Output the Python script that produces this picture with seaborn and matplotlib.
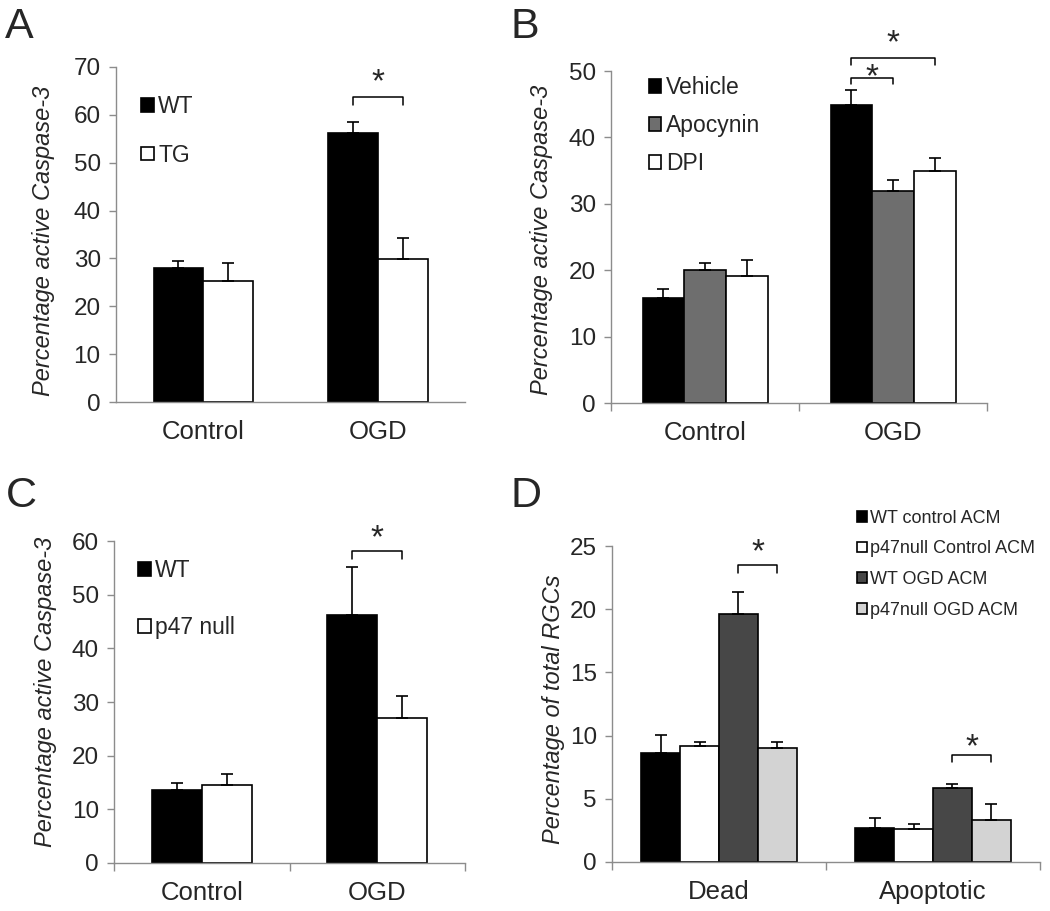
import numpy as np
import pandas as pd
import seaborn as sns
import matplotlib.pyplot as plt

# --- values (mean, upper error) ---
CONDITIONS = ["Control", "OGD"]

A_GROUPS = ["WT", "TG"]
A_WT = [28.0, 56.1]
A_WT_ERR = [1.5, 2.4]
A_TG = [25.3, 29.8]
A_TG_ERR = [3.7, 4.4]

B_GROUPS = ["Vehicle", "Apocynin", "DPI"]
B_VEHICLE = [15.8, 44.9]
B_VEHICLE_ERR = [1.4, 2.2]
B_APOCYNIN = [20.0, 32.0]
B_APOCYNIN_ERR = [1.1, 1.6]
B_DPI = [19.1, 34.9]
B_DPI_ERR = [2.5, 2.0]

C_GROUPS = ["WT", "p47 null"]
C_WT = [13.6, 46.3]
C_WT_ERR = [1.3, 8.8]
C_P47 = [14.6, 27.0]
C_P47_ERR = [2.0, 4.2]

D_CATS = ["Dead", "Apoptotic"]
D_GROUPS = ["WT control ACM", "p47null Control ACM", "WT OGD ACM", "p47null OGD ACM"]
D_WT_CTRL = [8.65, 2.69]
D_WT_CTRL_ERR = [1.42, 0.79]
D_P47_CTRL = [9.15, 2.58]
D_P47_CTRL_ERR = [0.32, 0.40]
D_WT_OGD = [19.6, 5.83]
D_WT_OGD_ERR = [1.8, 0.31]
D_P47_OGD = [8.99, 3.35]
D_P47_OGD_ERR = [0.51, 1.25]

GREY = "#8c8c8c"
STAR_SIZE = 24

sns.set_style("ticks")
plt.rcParams["font.family"] = ["Liberation Sans", "DejaVu Sans"]


def draw_panel(ax, cats, groups, means, errs, colors, width, ylim, yticks, ylabel, cat_ticks=True):
    df = pd.DataFrame({
        "cat": np.tile(cats, len(groups)),
        "group": np.repeat(groups, len(cats)),
        "value": np.concatenate(means),
    })
    sns.barplot(data=df, x="cat", y="value", hue="group", order=cats, hue_order=groups,
                palette=colors, width=width, gap=0, saturation=1, errorbar=None,
                edgecolor="black", linewidth=1.2, ax=ax)
    bar_sets = list(ax.containers)
    centers = []
    for bars, err in zip(bar_sets, errs):
        xs = [b.get_x() + b.get_width() / 2 for b in bars]
        hs = [b.get_height() for b in bars]
        centers.append(xs)
        ax.errorbar(xs, hs, yerr=[np.zeros(len(err)), err], fmt="none", ecolor="black",
                    elinewidth=1.2, capsize=4, capthick=1.2)

    ax.set_xlim(-0.5, len(cats) - 0.5)
    ax.set_ylim(*ylim)
    ax.set_yticks(yticks)
    ax.set_xlabel("")
    ax.set_ylabel(ylabel, fontsize=17, style="italic")
    sns.despine(ax=ax)
    for s in ["left", "bottom"]:
        ax.spines[s].set_color(GREY)
        ax.spines[s].set_linewidth(1.0)
    ax.tick_params(axis="y", direction="out", length=5, width=1, color=GREY, labelsize=17.5, pad=6)
    ax.tick_params(axis="x", which="major", length=0, labelsize=18.5, pad=13)
    if cat_ticks:
        ax.set_xticks(np.arange(len(cats) + 1) - 0.5, minor=True)
        ax.tick_params(axis="x", which="minor", direction="out", length=6, width=1, color=GREY)
    return centers


def bracket(ax, x0, x1, y, drop, star_y):
    # star_y = vertical centre of the asterisk ink
    ax.plot([x0, x0, x1, x1], [y - drop, y, y, y - drop], color="black", lw=1.1, clip_on=False)
    ax.annotate("*", xy=((x0 + x1) / 2, star_y), xytext=(0, -0.47 * STAR_SIZE),
                textcoords="offset points", ha="center", va="baseline",
                fontsize=STAR_SIZE, annotation_clip=False)


def legend(ax, anchor, size, spacing):
    ax.legend(loc="upper left", bbox_to_anchor=anchor, frameon=False, fontsize=size,
              handlelength=0.55, handleheight=0.55, handletextpad=0.2, labelspacing=spacing,
              borderpad=0, borderaxespad=0)


fig = plt.figure(figsize=(10.5, 9.11), dpi=100)
axA = fig.add_axes([0.1105, 0.5587, 0.3324, 0.3678])
axB = fig.add_axes([0.582, 0.5576, 0.358, 0.3644])
axC = fig.add_axes([0.1086, 0.0527, 0.3343, 0.3534])
axD = fig.add_axes([0.5829, 0.0538, 0.4076, 0.3468])

ylab = "Percentage active Caspase-3"

# A
cA = draw_panel(axA, CONDITIONS, A_GROUPS, [A_WT, A_TG], [A_WT_ERR, A_TG_ERR],
                ["black", "white"], 0.57, (0, 70), range(0, 71, 10), ylab, cat_ticks=False)
bracket(axA, cA[0][1], cA[1][1], 63.7, 1.6, 68.2)
legend(axA, (0.072, 0.915), 16.5, 1.1)
axA.yaxis.set_label_coords(-0.175, 0.48)

# B
cB = draw_panel(axB, CONDITIONS, B_GROUPS, [B_VEHICLE, B_APOCYNIN, B_DPI],
                [B_VEHICLE_ERR, B_APOCYNIN_ERR, B_DPI_ERR],
                ["black", "#6e6e6e", "white"], 0.665, (0, 50), range(0, 51, 10), ylab)
bracket(axB, cB[0][1], cB[1][1], 49.0, 1.0, 50.1)
bracket(axB, cB[0][1], cB[2][1], 52.0, 1.1, 55.2)
legend(axB, (0.10, 0.985), 16.5, 0.65)
axB.yaxis.set_label_coords(-0.154, 0.49)

# C
cC = draw_panel(axC, CONDITIONS, C_GROUPS, [C_WT, C_P47], [C_WT_ERR, C_P47_ERR],
                ["black", "white"], 0.57, (0, 60), range(0, 61, 10), ylab)
bracket(axC, cC[0][1], cC[1][1], 58.1, 1.5, 61.7)
legend(axC, (0.068, 0.945), 16.5, 1.5)
axC.yaxis.set_label_coords(-0.162, 0.53)

# D
cD = draw_panel(axD, D_CATS, D_GROUPS, [D_WT_CTRL, D_P47_CTRL, D_WT_OGD, D_P47_OGD],
                [D_WT_CTRL_ERR, D_P47_CTRL_ERR, D_WT_OGD_ERR, D_P47_OGD_ERR],
                ["black", "white", "#474747", "#d3d3d3"], 0.725, (0, 25), range(0, 26, 5),
                "Percentage of total RGCs")
bracket(axD, cD[2][0], cD[3][0], 23.5, 0.6, 25.05)
bracket(axD, cD[2][1], cD[3][1], 8.5, 0.6, 9.6)
legend(axD, (0.572, 1.115), 13, 0.76)
axD.yaxis.set_label_coords(-0.110, 0.485)

# panel letters
for x, y, letter in [(5, 38, "A"), (510, 38, "B"), (6, 507, "C"), (510, 507, "D")]:
    fig.text(x / 1050, 1 - y / 911, letter, fontsize=31, va="baseline", ha="left")

fig.savefig("out.png", dpi=100)
